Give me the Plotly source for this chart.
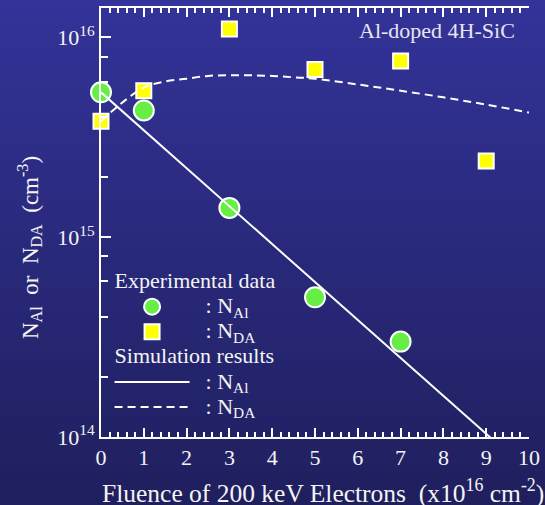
import plotly.graph_objects as go

# ---------------- data ----------------
fluence_al = [0, 1, 3, 5, 7]
n_al_exp = [5.3e15, 4.3e15, 1.4e15, 5.0e14, 3.0e14]

fluence_da = [0, 1, 3, 5, 7, 9]
n_da_exp = [3.8e15, 5.4e15, 1.1e16, 6.9e15, 7.6e15, 2.4e15]

sim_al_x = [0, 10]
sim_al = [5.3e15, 6.7e13]

sim_da_x = [0, 0.44, 1, 1.5, 2, 2.5, 3, 3.5, 4, 4.5, 5, 6, 7, 8, 9, 10]
sim_da = [3.8e15, 4.6e15, 5.6e15, 6.0e15, 6.2e15, 6.4e15, 6.45e15, 6.45e15,
          6.4e15, 6.3e15, 6.2e15, 5.8e15, 5.4e15, 5.0e15, 4.6e15, 4.2e15]

y_tickvals = [1e14, 1e15, 1e16]
y_ticktext = ["10<sup>14</sup>", "10<sup>15</sup>", "10<sup>16</sup>"]
y_minorvals = [m * 10 ** e for e in (14, 15) for m in (2, 4, 6, 8)]

FONT = "Liberation Serif, Times New Roman, serif"
TXT = "#f4f4f4"
NB = "&nbsp;"


def big(s):
    return '<span style="font-size:22px">' + s + "</span>"


fig = go.Figure()

fig.add_trace(go.Scatter(
    x=fluence_al, y=n_al_exp, mode="markers", cliponaxis=False,
    marker=dict(symbol="circle", size=20, color="#66EE44",
                line=dict(color="white", width=2)),
    name=big(NB * 2 + ": N<sub>Al</sub>"), legendgroup="exp",
    legendgrouptitle=dict(text=big("Experimental data"))))
fig.add_trace(go.Scatter(
    x=fluence_da, y=n_da_exp, mode="markers", cliponaxis=False,
    marker=dict(symbol="square", size=15, color="#FFFF00",
                line=dict(color="white", width=2)),
    name=big(NB * 2 + ": N<sub>DA</sub>"), legendgroup="exp"))
fig.add_trace(go.Scatter(
    x=sim_al_x, y=sim_al, mode="lines",
    line=dict(color="white", width=2),
    name=big(NB * 2 + ": N<sub>Al</sub>"), legendgroup="sim",
    legendgrouptitle=dict(text=big("Simulation results"))))
fig.add_trace(go.Scatter(
    x=sim_da_x, y=sim_da, mode="lines", line_shape="spline",
    line=dict(color="white", width=2, dash="8px,5px"),
    name=big(NB * 2 + ": N<sub>DA</sub>"), legendgroup="sim"))

# background gradient
N = 60
top = (51, 51, 153)
bot = (31, 31, 94)
H = 505
ph = 429.0
for i in range(N):
    t = (i + 0.5) / N
    c = tuple(int(round(top[k] + (bot[k] - top[k]) * t)) for k in range(3))
    y_top_px = i * H / N
    y_bot_px = (i + 1) * H / N + 1
    fig.add_shape(type="rect", xref="paper", yref="paper", layer="below",
                  x0=-0.5, x1=1.5,
                  y0=(437 - y_bot_px) / ph, y1=(437 - y_top_px) / ph,
                  fillcolor="rgb(%d,%d,%d)" % c, line=dict(width=0))

fig.add_annotation(text="Al-doped 4H-SiC", xref="paper", yref="paper",
                   x=0.972, y=(437 - 31) / ph, xanchor="right", yanchor="middle",
                   showarrow=False, font=dict(family=FONT, size=22, color="#e6e6f0"))

# axis titles
fig.add_annotation(text="Fluence of 200 keV Electrons" + NB * 2 + "(x10<sup>16</sup> cm<sup>-2</sup>)",
                   xref="paper", yref="paper", x=(323 - 101) / 428.0, y=(437 - 491) / ph,
                   xanchor="center", yanchor="middle", showarrow=False,
                   font=dict(family=FONT, size=25.5, color=TXT))
fig.add_annotation(text="N<sub>Al</sub>" + NB + " or " + NB + "N<sub>DA</sub>" + NB * 2 + "(cm<sup>-3</sup>)",
                   xref="paper", yref="paper", x=(30 - 101) / 428.0, y=(437 - 248) / ph,
                   xanchor="center", yanchor="middle", showarrow=False, textangle=-90,
                   font=dict(family=FONT, size=23, color=TXT))

axis_common = dict(showline=True, linecolor="white", linewidth=2,
                   ticks="inside", tickcolor="white", tickwidth=2,
                   showgrid=False, zeroline=False,
                   tickfont=dict(family=FONT, size=22, color=TXT))

fig.update_layout(
    width=545, height=505,
    margin=dict(l=101, r=16, t=8, b=68, autoexpand=False),
    paper_bgcolor="rgb(31,31,94)", plot_bgcolor="rgba(0,0,0,0)",
    font=dict(family=FONT, size=22, color=TXT),
    showlegend=True,
    legend=dict(x=0.02, y=(437 - 264) / ph, xanchor="left", yanchor="top",
                bgcolor="rgba(0,0,0,0)", font=dict(family=FONT, size=17, color=TXT),
                grouptitlefont=dict(family=FONT, size=17, color=TXT),
                itemsizing="trace", tracegroupgap=0, itemwidth=75),
    xaxis=dict(range=[0, 10], dtick=1, tick0=0, ticklen=9, mirror="allticks",
               minor=dict(dtick=0.2, ticklen=5, tickwidth=2, tickcolor="white", ticks="inside"),
               **axis_common),
    yaxis=dict(type="log", range=[14, 16.146], tickmode="array",
               tickvals=y_tickvals, ticktext=y_ticktext, ticklen=10,
               minor=dict(tickmode="array", tickvals=y_minorvals, ticklen=7,
                          tickwidth=2, tickcolor="white", ticks="inside"),
               **axis_common),
    yaxis2=dict(overlaying="y", side="right", anchor="x", range=[0, 12], dtick=1, tick0=0,
                ticklen=10, showticklabels=False,
                minor=dict(dtick=0.2, ticklen=5, tickwidth=2, tickcolor="white", ticks="inside"),
                showline=True, linecolor="white", linewidth=2, ticks="inside",
                tickcolor="white", tickwidth=2, showgrid=False, zeroline=False),
)

fig.write_html("out.html", config={"displayModeBar": False},
               post_script="document.body.style.margin='0';")
